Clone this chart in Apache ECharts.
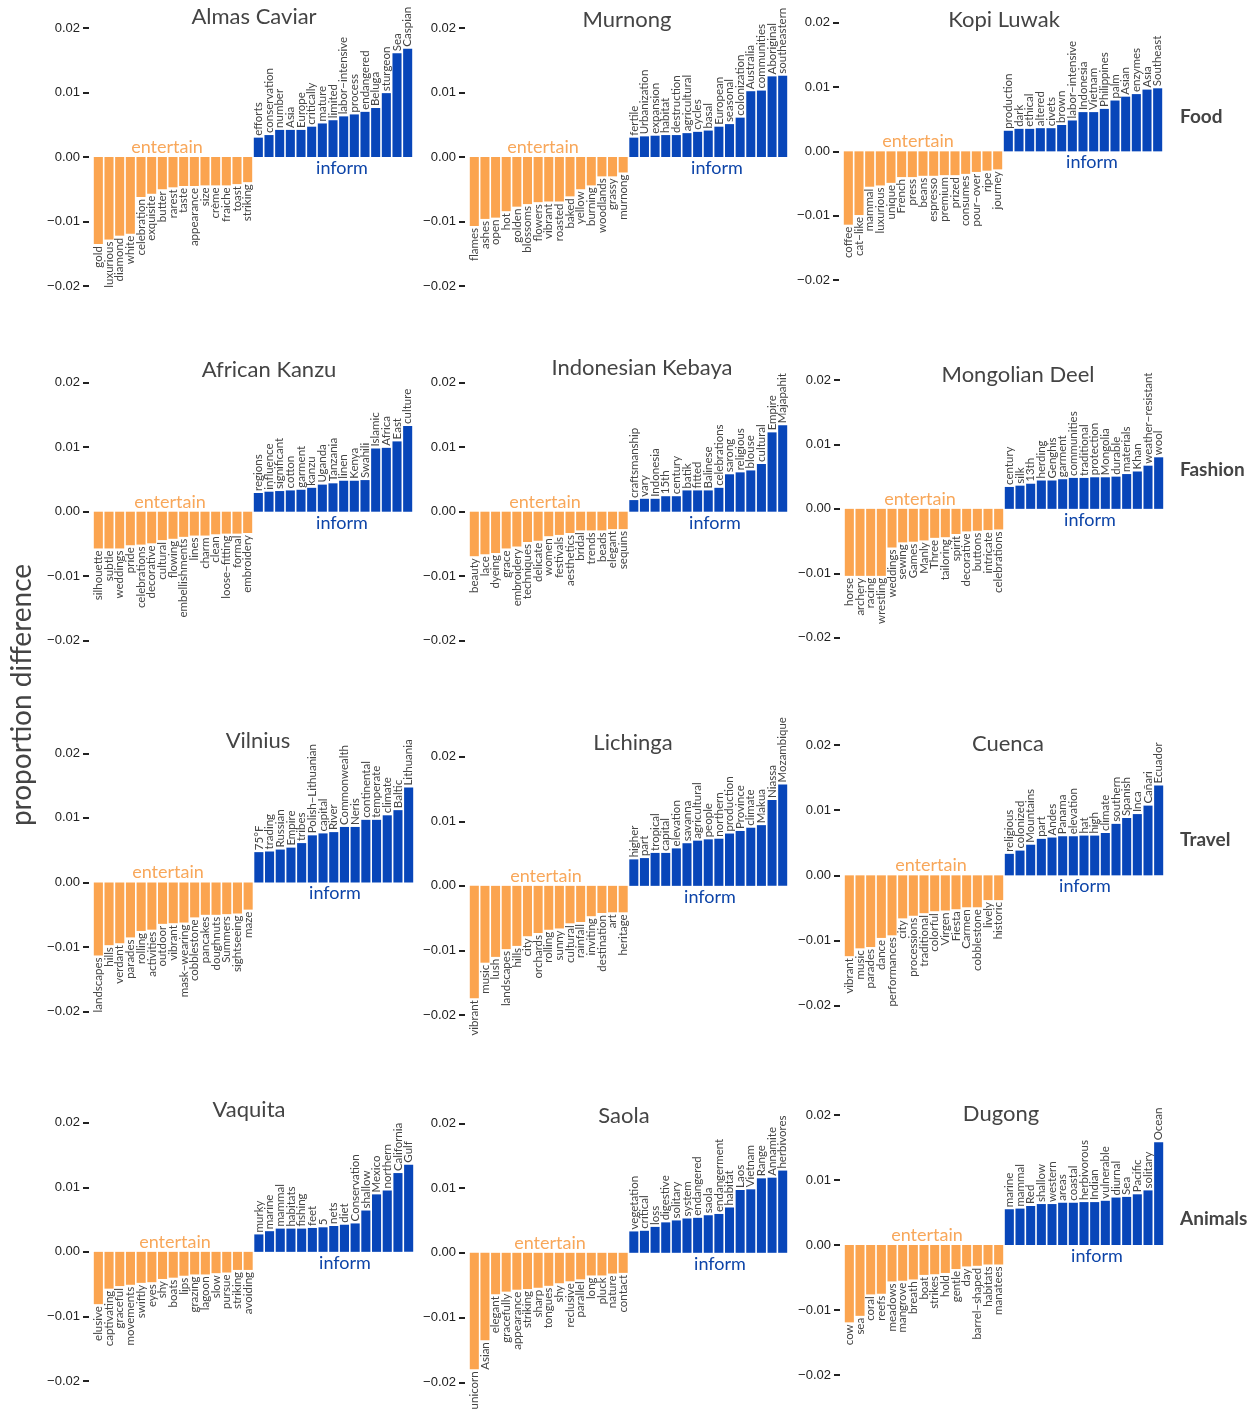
<!DOCTYPE html>
<html><head><meta charset="utf-8">
<script src="https://cdn.jsdelivr.net/npm/echarts@6/dist/echarts.min.js"></script>
<style>html,body{margin:0;padding:0;background:#fff}#c{width:1256px;height:1415px}</style>
</head><body><div id="c"></div>
<script>
// ---------------- DATA ----------------
const yTicks = [-0.02, -0.01, 0, 0.01, 0.02];
const facetNames = ["Food", "Fashion", "Travel", "Animals"];
const panelTitles = ["Almas Caviar","Murnong","Kopi Luwak","African Kanzu","Indonesian Kebaya","Mongolian Deel","Vilnius","Lichinga","Cuenca","Vaquita","Saola","Dugong"];

const almasEntWords = ["gold","luxurious","diamond","white","celebration","exquisite","butter","rarest","taste","appearance","size","crème","fraiche","toast","striking"];
const almasEntVals = [-0.0135,-0.0128,-0.0122,-0.0119,-0.0062,-0.0057,-0.0050,-0.0047,-0.0045,-0.0045,-0.0044,-0.0044,-0.0044,-0.0042,-0.0039];
const almasInfWords = ["efforts","conservation","number","Asia","Europe","critically","mature","limited","labor\u2212intensive","process","endangered","Beluga","sturgeon","Sea","Caspian"];
const almasInfVals = [0.0030,0.0034,0.0042,0.0042,0.0042,0.0047,0.0052,0.0057,0.0063,0.0066,0.0070,0.0076,0.0099,0.0161,0.0168];

const murnongEntWords = ["flames","ashes","open","hot","golden","blossoms","flowers","vibrant","roasted","baked","yellow","burning","woodlands","grassy","murnong"];
const murnongEntVals = [-0.0107,-0.0096,-0.0094,-0.0084,-0.0077,-0.0073,-0.0070,-0.0069,-0.0069,-0.0061,-0.0050,-0.0044,-0.0030,-0.0030,-0.0024];
const murnongInfWords = ["fertile","Urbanization","expansion","habitat","destruction","agricultural","cycles","basal","European","seasonal","colonization","Australia","communities","Aboriginal","southeastern"];
const murnongInfVals = [0.0030,0.0032,0.0033,0.0034,0.0034,0.0037,0.0039,0.0041,0.0047,0.0051,0.0061,0.0102,0.0103,0.0125,0.0126];

const kopiEntWords = ["coffee","cat\u2212like","mammal","luxurious","unique","French","press","beans","espresso","premium","prized","consumes","pour\u2212over","ripe","journey"];
const kopiEntVals = [-0.0114,-0.0099,-0.0055,-0.0053,-0.0049,-0.0040,-0.0040,-0.0038,-0.0038,-0.0037,-0.0037,-0.0035,-0.0032,-0.0030,-0.0028];
const kopiInfWords = ["production","dark","ethical","altered","civets","brown","labor\u2212intensive","Indonesia","Vietnam","Philippines","palm","Asian","enzymes","Asia","Southeast"];
const kopiInfVals = [0.0032,0.0035,0.0035,0.0036,0.0036,0.0041,0.0048,0.0061,0.0061,0.0066,0.0079,0.0085,0.0089,0.0096,0.0098];

const kanzuEntWords = ["silhouette","subtle","weddings","pride","celebrations","decorative","cultural","flowing","embellishments","lines","charm","clean","loose\u2212fitting","formal","embroidery"];
const kanzuEntVals = [-0.0057,-0.0057,-0.0057,-0.0052,-0.0051,-0.0049,-0.0044,-0.0042,-0.0039,-0.0037,-0.0037,-0.0035,-0.0034,-0.0034,-0.0033];
const kanzuInfWords = ["regions","influence","significant","cotton","garment","kanzu","Uganda","Tanzania","linen","Kenya","Swahili","Islamic","Africa","East","culture"];
const kanzuInfVals = [0.0029,0.0031,0.0032,0.0033,0.0034,0.0037,0.0042,0.0044,0.0048,0.0048,0.0049,0.0098,0.0099,0.0109,0.0133];

const kebayaEntWords = ["beauty","lace","dyeing","grace","embroidery","techniques","delicate","women","festivals","aesthetics","bridal","trends","beads","elegant","sequins"];
const kebayaEntVals = [-0.0069,-0.0066,-0.0064,-0.0057,-0.0054,-0.0047,-0.0045,-0.0038,-0.0036,-0.0033,-0.0029,-0.0029,-0.0029,-0.0027,-0.0027];
const kebayaInfWords = ["craftsmanship","vary","Indonesia","15th","century","batik","fitted","Balinese","celebrations","sarong","religious","blouse","cultural","Empire","Majapahit"];
const kebayaInfVals = [0.0018,0.0020,0.0020,0.0024,0.0024,0.0033,0.0033,0.0033,0.0037,0.0058,0.0061,0.0064,0.0074,0.0123,0.0134];

const deelEntWords = ["horse","archery","racing","wrestling","weddings","sewing","Games","Manly","Three","tailoring","spirit","decorative","buttons","intricate","celebrations"];
const deelEntVals = [-0.0104,-0.0104,-0.0104,-0.0104,-0.0060,-0.0052,-0.0051,-0.0049,-0.0045,-0.0044,-0.0039,-0.0035,-0.0034,-0.0033,-0.0032];
const deelInfWords = ["century","silk","13th","herding","Genghis","garment","communities","traditional","protection","Mongolia","durable","materials","Khan","weather\u2212resistant","wool"];
const deelInfVals = [0.0034,0.0036,0.0039,0.0044,0.0044,0.0046,0.0048,0.0048,0.0049,0.0049,0.0050,0.0054,0.0058,0.0067,0.0080];

const vilniusEntWords = ["landscapes","hills","verdant","parades","rolling","activities","outdoor","vibrant","mask\u2212wearing","cobblestone","pancakes","doughnuts","Summers","sightseeing","maze"];
const vilniusEntVals = [-0.0113,-0.0097,-0.0094,-0.0085,-0.0075,-0.0073,-0.0064,-0.0063,-0.0062,-0.0054,-0.0050,-0.0050,-0.0049,-0.0048,-0.0042];
const vilniusInfWords = ["75°F","trading","Russian","Empire","tribes","Polish\u2212Lithuanian","capital","River","Commonwealth","Neris","continental","temperate","climate","Baltic","Lithuania"];
const vilniusInfVals = [0.0047,0.0048,0.0051,0.0054,0.0061,0.0073,0.0076,0.0078,0.0086,0.0086,0.0097,0.0097,0.0104,0.0112,0.0147];

const lichingaEntWords = ["vibrant","music","lush","landscapes","hills","city","orchards","rolling","sunny","cultural","rainfall","inviting","destination","art","heritage"];
const lichingaEntVals = [-0.0174,-0.0119,-0.0110,-0.0098,-0.0093,-0.0078,-0.0073,-0.0068,-0.0066,-0.0058,-0.0056,-0.0047,-0.0042,-0.0041,-0.0041];
const lichingaInfWords = ["higher","part","tropical","capital","elevation","savanna","agricultural","people","northern","production","Province","climate","Makua","Niassa","Mozambique"];
const lichingaInfVals = [0.0041,0.0043,0.0051,0.0051,0.0058,0.0066,0.0070,0.0072,0.0073,0.0081,0.0085,0.0090,0.0094,0.0133,0.0157];

const cuencaEntWords = ["vibrant","music","parades","dance","performances","city","processions","traditional","colorful","Virgen","Fiesta","Carmen","cobblestone","lively","historic"];
const cuencaEntVals = [-0.0124,-0.0112,-0.0110,-0.0096,-0.0092,-0.0066,-0.0062,-0.0058,-0.0055,-0.0054,-0.0052,-0.0049,-0.0049,-0.0038,-0.0038];
const cuencaInfWords = ["religious","colonized","Mountains","part","Andes","Panama","elevation","hat","high","climate","southern","Spanish","Inca","Cañari","Ecuador"];
const cuencaInfVals = [0.0033,0.0038,0.0047,0.0056,0.0058,0.0060,0.0060,0.0061,0.0061,0.0065,0.0079,0.0088,0.0094,0.0107,0.0138];

const vaquitaEntWords = ["elusive","captivating","graceful","movements","swiftly","eyes","shy","boats","lips","grazing","lagoon","slow","pursue","striking","avoiding"];
const vaquitaEntVals = [-0.0081,-0.0057,-0.0053,-0.0051,-0.0048,-0.0047,-0.0042,-0.0040,-0.0037,-0.0035,-0.0035,-0.0033,-0.0032,-0.0028,-0.0028];
const vaquitaInfWords = ["murky","marine","mammal","habitats","fishing","feet","5","nets","diet","Conservation","shallow","Mexico","northern","California","Gulf"];
const vaquitaInfVals = [0.0027,0.0032,0.0036,0.0036,0.0036,0.0037,0.0038,0.0040,0.0042,0.0044,0.0064,0.0089,0.0095,0.0122,0.0135];

const saolaEntWords = ["unicorn","Asian","elegant","gracefully","appearance","striking","sharp","tongues","shy","reclusive","parallel","long","pluck","nature","contact"];
const saolaEntVals = [-0.0180,-0.0135,-0.0064,-0.0060,-0.0057,-0.0056,-0.0054,-0.0051,-0.0047,-0.0044,-0.0041,-0.0035,-0.0035,-0.0032,-0.0031];
const saolaInfWords = ["vegetation","critical","loss","digestive","solitary","system","endangered","saola","endangerment","habitat","Laos","Vietnam","Range","Annamite","herbivores"];
const saolaInfVals = [0.0033,0.0034,0.0040,0.0047,0.0050,0.0053,0.0054,0.0058,0.0060,0.0070,0.0097,0.0098,0.0115,0.0116,0.0127];

const dugongEntWords = ["cow","sea","coral","reefs","meadows","mangrove","breath","boat","strikes","hold","gentle","day","barrel\u2212shaped","habitats","manatees"];
const dugongEntVals = [-0.0119,-0.0109,-0.0076,-0.0075,-0.0056,-0.0055,-0.0053,-0.0046,-0.0045,-0.0043,-0.0037,-0.0033,-0.0032,-0.0030,-0.0030];
const dugongInfWords = ["marine","mammal","Red","shallow","western","areas","coastal","herbivorous","Indian","vulnerable","diurnal","Sea","Pacific","solitary","Ocean"];
const dugongInfVals = [0.0055,0.0056,0.0060,0.0063,0.0063,0.0065,0.0065,0.0066,0.0066,0.0068,0.0073,0.0074,0.0078,0.0084,0.0158];

const panelData = [
  [almasEntWords, almasEntVals, almasInfWords, almasInfVals],
  [murnongEntWords, murnongEntVals, murnongInfWords, murnongInfVals],
  [kopiEntWords, kopiEntVals, kopiInfWords, kopiInfVals],
  [kanzuEntWords, kanzuEntVals, kanzuInfWords, kanzuInfVals],
  [kebayaEntWords, kebayaEntVals, kebayaInfWords, kebayaInfVals],
  [deelEntWords, deelEntVals, deelInfWords, deelInfVals],
  [vilniusEntWords, vilniusEntVals, vilniusInfWords, vilniusInfVals],
  [lichingaEntWords, lichingaEntVals, lichingaInfWords, lichingaInfVals],
  [cuencaEntWords, cuencaEntVals, cuencaInfWords, cuencaInfVals],
  [vaquitaEntWords, vaquitaEntVals, vaquitaInfWords, vaquitaInfVals],
  [saolaEntWords, saolaEntVals, saolaInfWords, saolaInfVals],
  [dugongEntWords, dugongEntVals, dugongInfWords, dugongInfVals]
];

// ---------------- LAYOUT (pixels) ----------------
// grid: [left, top, width, height]
const gridBoxes = [
  [93, 28, 320, 258], [469, 28, 319, 258], [843, 22.7, 320, 257.3],
  [93, 382.7, 320, 258], [469, 382.7, 319, 258], [844, 380, 320, 257.7],
  [93, 753.3, 321, 258.4], [469, 756.7, 319, 258.3], [844, 745, 320, 260.7],
  [93, 1122.7, 321, 258.3], [469, 1123.3, 319, 259], [844, 1115, 320, 260]
];
const titlePos = [[254,17],[627,20],[1004,20],[269,370],[642,368],[1018,375],[258,741],[633,743],[1008,744],[249,1110],[624,1116],[1001,1114]];
const entOffsetX = [74,74,75,77,76,76,75,77,87,82,81,83];
const infOffsetX = [249,248,249,249,246,246,242,241,241,252,251,253];
const facetPos = [[1180,117],[1180,470],[1180,840],[1180,1219]];

const ORANGE = '#FBA44F', BLUE = '#0846B9';
const TEXT = '#444';

const grid = [], xAxis = [], yAxis = [], series = [], graphic = [];
panelData.forEach((p, i) => {
  const [ew, ev, iw, iv] = p;
  const [l, t, w, h] = gridBoxes[i];
  grid.push({left: l, top: t, width: w, height: h, containLabel: false});
  const cats = ew.concat(iw);
  xAxis.push({type: 'category', gridIndex: i, data: cats, show: false, boundaryGap: true});
  yAxis.push({
    type: 'value', gridIndex: i, min: yTicks[0], max: yTicks[yTicks.length - 1], interval: 0.01,
    offset: 4,
    splitLine: {show: false}, axisLine: {show: false},
    axisTick: {show: true, length: 6, lineStyle: {color: '#222', width: 2}},
    axisLabel: {
      margin: 9, color: '#222', fontSize: 13, fontFamily: 'Liberation Sans',
      formatter: v => (v < -1e-9 ? '\u2212' : '') + Math.abs(v).toFixed(2)
    }
  });
  const blank = new Array(15).fill('-');
  series.push({
    type: 'bar', xAxisIndex: i, yAxisIndex: i, data: ev.concat(blank),
    barCategoryGap: '15%', barGap: '-100%',
    itemStyle: {color: ORANGE}, silent: true, animation: false,
    label: {show: true, position: 'bottom', rotate: 90, align: 'right', verticalAlign: 'middle',
      distance: 2, formatter: '{b}', color: TEXT, fontSize: 11.5, fontFamily: 'Lato'}
  });
  series.push({
    type: 'bar', xAxisIndex: i, yAxisIndex: i, data: blank.concat(iv),
    barCategoryGap: '15%', barGap: '-100%',
    itemStyle: {color: BLUE}, silent: true, animation: false,
    label: {show: true, position: 'top', rotate: 90, align: 'left', verticalAlign: 'middle',
      distance: 2, formatter: '{b}', color: TEXT, fontSize: 11.5, fontFamily: 'Lato'}
  });
  const zeroY = t + h / 2;
  graphic.push({type: 'text', x: titlePos[i][0], y: titlePos[i][1],
    style: {text: panelTitles[i], fill: TEXT, font: '22px Lato', textAlign: 'center', textVerticalAlign: 'middle'}});
  graphic.push({type: 'text', x: l + entOffsetX[i], y: zeroY - 10,
    style: {text: 'entertain', fill: '#F8A75A', font: '18px Lato', textAlign: 'center', textVerticalAlign: 'middle'}});
  graphic.push({type: 'text', x: l + infOffsetX[i], y: zeroY + 11,
    style: {text: 'inform', fill: '#0D44A8', font: '18px Lato', textAlign: 'center', textVerticalAlign: 'middle'}});
});
facetNames.forEach((f, k) => {
  graphic.push({type: 'text', x: facetPos[k][0], y: facetPos[k][1],
    style: {text: f, fill: TEXT, font: 'bold 19px Lato', textAlign: 'left', textVerticalAlign: 'middle'}});
});
graphic.push({type: 'text', x: 22, y: 695, rotation: Math.PI / 2,
  style: {text: 'proportion difference', fill: TEXT, font: '28px Lato', textAlign: 'center', textVerticalAlign: 'middle'}});

const chart = echarts.init(document.getElementById('c'), null, {renderer: 'canvas'});
chart.setOption({backgroundColor: '#fff', animation: false, grid, xAxis, yAxis, series, graphic});
</script></body></html>
